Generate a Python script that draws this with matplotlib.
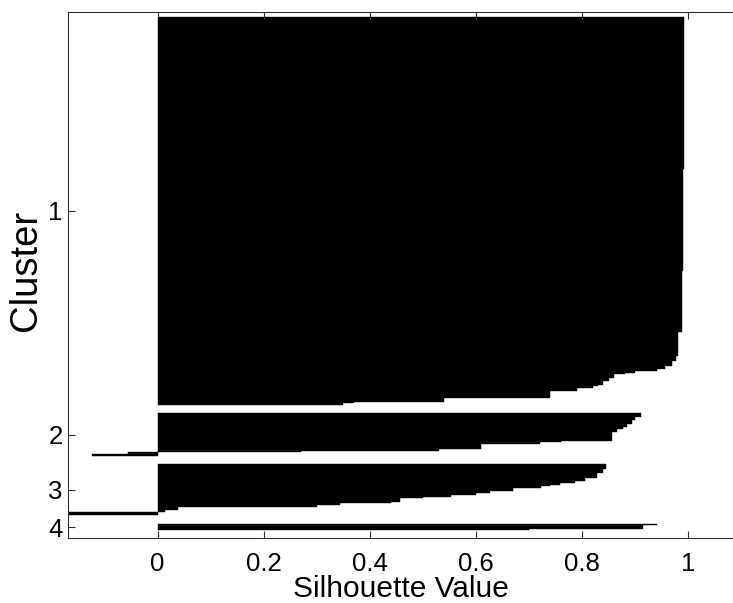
import matplotlib
matplotlib.use('Agg')
import matplotlib.pyplot as plt
import numpy as np

plt.rcParams['font.family'] = ['Liberation Sans', 'DejaVu Sans']

# Silhouette values of each cluster, kept as runs of (value, number of points),
# sorted from best to worst fit inside the cluster.
c1_values = [0.992, 0.990, 0.987, 0.980, 0.976, 0.970, 0.955, 0.940, 0.900,
             0.880, 0.860, 0.850, 0.840, 0.830, 0.820, 0.790, 0.740, 0.540,
             0.370, 0.350]
c1_counts = [90, 60, 36, 14, 3, 3, 2, 1, 1, 1, 2, 2, 2, 1, 1, 2, 4, 2, 1, 1]

c2_values = [0.911, 0.900, 0.893, 0.884, 0.877, 0.865, 0.857, 0.760, 0.720,
             0.610, 0.530, 0.270, -0.055, -0.124]
c2_counts = [2, 2, 2, 2, 1, 2, 5, 1, 1, 3, 1, 1, 1, 1]

c3_values = [0.845, 0.839, 0.828, 0.806, 0.787, 0.758, 0.740, 0.723, 0.670,
             0.626, 0.600, 0.553, 0.500, 0.457, 0.440, 0.344, 0.300, 0.039,
             0.015, -0.200, -0.250]
c3_counts = [3, 2, 3, 2, 1, 1, 1, 1, 2, 1, 1, 1, 1, 2, 1, 1, 1, 2, 1, 1, 1]

c4_values = [0.940, 0.915, 0.700]
c4_counts = [1, 2, 1]

cluster_names = ['1', '2', '3', '4']
x_ticks = [0, 0.2, 0.4, 0.6, 0.8, 1]
x_ticklabels = ['0', '0.2', '0.4', '0.6', '0.8', '1']

SPACE = 5  # empty rows between clusters

clusters = [
    np.repeat(c1_values, c1_counts),
    np.repeat(c2_values, c2_counts),
    np.repeat(c3_values, c3_counts),
    np.repeat(c4_values, c4_counts),
]

fig = plt.figure(figsize=(7.33, 6.03), dpi=100)
ax = fig.add_axes([0.0932, 0.1073, 0.9068, 0.8733])

cursor = 0
tick_pos = []
for vals in clusters:
    rows = cursor + np.arange(len(vals)) + 0.5
    ax.barh(rows, vals, height=1.0, color='black', edgecolor='black',
            linewidth=0.3)
    tick_pos.append(cursor + len(vals) / 2)
    cursor += len(vals) + SPACE
cursor -= SPACE

ax.set_xlim(-0.168, 1.084)
ax.set_ylim(cursor + 4.65, -2.95)

ax.set_yticks(tick_pos)
ax.set_yticklabels(cluster_names)
ax.set_xticks(x_ticks)
ax.set_xticklabels(x_ticklabels)

for side in ['top', 'left', 'bottom']:
    ax.spines[side].set_linewidth(0.8)
    ax.spines[side].set_color('#333333')
ax.spines['right'].set_visible(False)

ax.tick_params(axis='x', direction='in', top=True, length=4.8, width=0.8,
               color='#333333', labelsize=18.5, pad=10)
ax.tick_params(axis='y', direction='in', length=4.8, width=0.8,
               color='#333333', labelsize=18.5, pad=4)

ax.set_xlabel('Silhouette Value', fontsize=21.5, va='baseline')
ax.xaxis.set_label_coords(0.5, -0.111)
ax.set_ylabel('Cluster', fontsize=27.5, va='center')
ax.yaxis.set_label_coords(-0.0636, 0.508)

fig.savefig('out.png', dpi=100)
